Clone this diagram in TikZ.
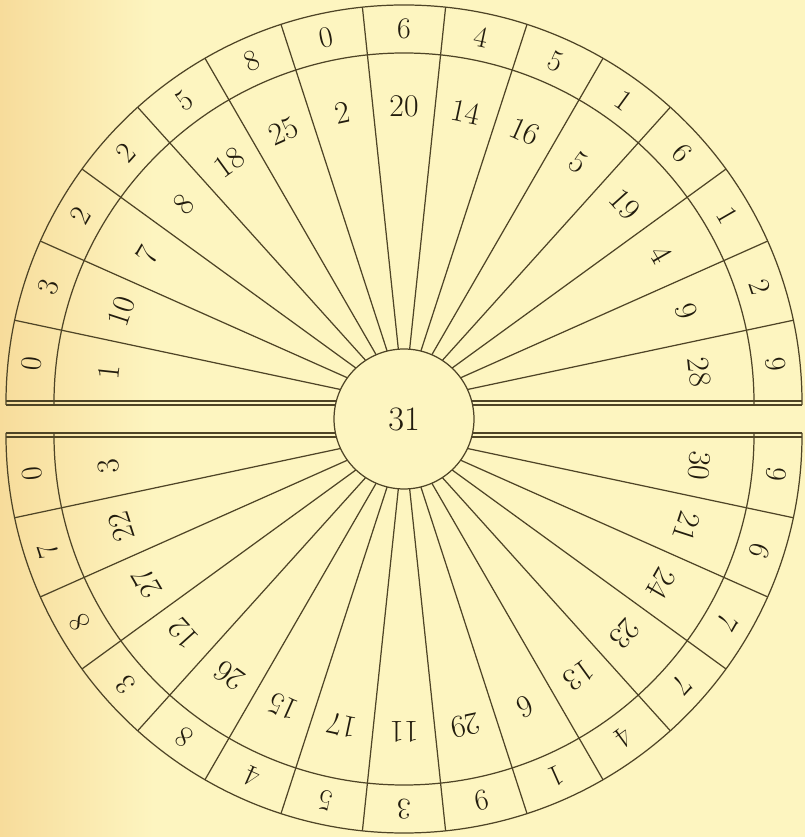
\documentclass[tikz,border=0pt]{standalone}
\usepackage{tikz}
\usetikzlibrary{positioning}

\definecolor{paper}{RGB}{253,245,192}
\definecolor{paperedge}{RGB}{247,220,155}
\definecolor{ink}{RGB}{78,68,38}
\definecolor{digit}{RGB}{34,28,14}

\begin{document}
\begin{tikzpicture}[
		x=0.02cm, y=0.02cm,
		rule/.style={draw=ink, line width=0.7pt},
		num/.style={text=digit, inner sep=0pt, font=\fontsize{18}{20}\selectfont},
		ringnum/.style={num, font=\fontsize{17}{19}\selectfont},
		hub/.style={circle, draw=ink, line width=0.7pt, fill=paper, minimum size=2.8cm, inner sep=0pt, text=digit, font=\fontsize{19.5}{22}\selectfont}
	]

	% Paper
	\fill[paper] (-404,-418) rectangle (401,419);
	\shade[left color=paperedge, right color=paper] (-404,-418) rectangle (-250,419);
	\useasboundingbox (-404,-418) rectangle (401,419);

	% Upper half: remainders and digits of 1/31
	\begin{scope}[shift={(0,16)}]
		\draw[rule] (-398,-2) -- (-398,0) arc[start angle=180, end angle=0, radius=398] -- (398,-2);
		\draw[rule] (-350,-2) -- (-350,0) arc[start angle=180, end angle=0, radius=350] -- (350,-2);
		\foreach \a in {12,24,...,168}
			\draw[rule] (0,0) -- (\a:398);
		\foreach \r/\d [count=\k from 0] in {28/9, 9/2, 4/1, 19/6, 5/1, 16/5, 14/4, 20/6, 2/0, 25/8, 18/5, 8/2, 7/2, 10/3, 1/0} {
			\node[num, rotate=12*\k-84] (rest\k) at ({12*\k+6}:297) {\r};
			\node[ringnum, rotate=12*\k-84] (digit\k) at ({12*\k+6}:374) {\d};
		}
	\end{scope}

	% Lower half: remainders and digits of 3/31
	\begin{scope}[shift={(0,-16)}]
		\draw[rule] (-398,2) -- (-398,0) arc[start angle=180, end angle=360, radius=398] -- (398,2);
		\draw[rule] (-350,2) -- (-350,0) arc[start angle=180, end angle=360, radius=350] -- (350,2);
		\foreach \a in {192,204,...,348}
			\draw[rule] (0,0) -- (\a:398);
		\foreach \r/\d [count=\k from 0] in {3/0, 22/7, 27/8, 12/3, 26/8, 15/4, 17/5, 11/3, 29/9, 6/1, 13/4, 23/7, 24/7, 21/6, 30/9} {
			\node[num, rotate=12*\k+96] (lrest\k) at ({12*\k+186}:297) {\r};
			\node[ringnum, rotate=12*\k+96] (ldigit\k) at ({12*\k+186}:374) {\d};
		}
	\end{scope}

	% Double rules between the halves
	\draw[rule] (-398,14) -- (398,14);
	\draw[rule] (-398,18) -- (398,18);
	\draw[rule] (-398,-14) -- (398,-14);
	\draw[rule] (-398,-18) -- (398,-18);

	% Centre
	\node[hub] (centre) at (0,0) {31};

\end{tikzpicture}
\end{document}
